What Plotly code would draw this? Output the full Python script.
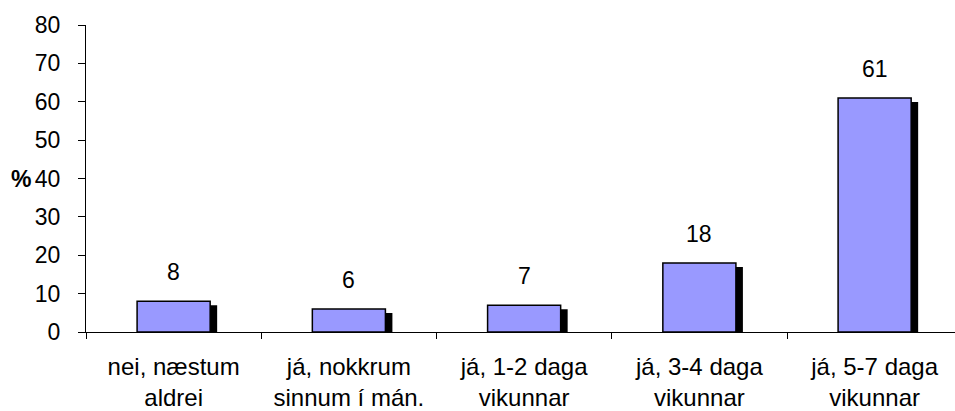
import plotly.graph_objects as go

categories = ["nei, næstum<br>aldrei", "já, nokkrum<br>sinnum í mán.", "já, 1-2 daga<br>vikunnar",
              "já, 3-4 daga<br>vikunnar", "já, 5-7 daga<br>vikunnar"]
values = [8, 6, 7, 18, 61]
y_ticks = [0, 10, 20, 30, 40, 50, 60, 70, 80]

W, H = 955, 411
L, R, T, B = 86, 0, 25, 79
plot_w = W - L - R
plot_h = H - T - B
cat_px = 175.25
x_range = [-0.5, -0.5 + plot_w / cat_px]
y_range = [0, 80]
px_per_unit = plot_h / (y_range[1] - y_range[0])

bar_w = 0.417
shadow_dx = 7 / cat_px
shadow_dy = 4 / px_per_unit
shadow_vals = [v - shadow_dy for v in values]

FONT = "Liberation Sans, Arial, sans-serif"

fig = go.Figure()
fig.add_trace(go.Bar(x=categories, y=shadow_vals, width=bar_w, offset=-bar_w / 2 + shadow_dx,
                     marker=dict(color="black", line=dict(width=0)), hoverinfo="skip"))
fig.add_trace(go.Bar(x=categories, y=values, width=bar_w, offset=-bar_w / 2,
                     marker=dict(color="#9999FF", line=dict(color="black", width=1.5))))

for c, v in zip(categories, values):
    fig.add_annotation(x=c, y=v, text=str(v), showarrow=False, yanchor="middle", yshift=29,
                       font=dict(family=FONT, size=23, color="black"))

fig.add_annotation(xref="paper", yref="y", x=(21 - L) / plot_w, y=40, text="<b>%</b>", showarrow=False,
                   xanchor="center", yanchor="middle", font=dict(family=FONT, size=23, color="black"))

fig.update_layout(
    width=W, height=H, margin=dict(l=L, r=R, t=T, b=B, autoexpand=False),
    barmode="overlay", showlegend=False, plot_bgcolor="white", paper_bgcolor="white",
    font=dict(family=FONT, size=22, color="black"),
)
fig.update_xaxes(range=x_range, showline=True, linecolor="black", linewidth=1, showgrid=False,
                 ticks="outside", tickson="boundaries", ticklen=6, tickcolor="black",
                 ticklabelstandoff=13, tickfont=dict(family=FONT, size=24))
fig.update_yaxes(range=y_range, tickvals=y_ticks, showline=True, linecolor="black", linewidth=1,
                 showgrid=False, zeroline=False, ticks="outside", ticklen=7, tickcolor="black",
                 ticklabelstandoff=13, tickfont=dict(family=FONT, size=23))

fig.write_html("out.html", config={"displayModeBar": False})

with open("out.html", "r", encoding="utf-8") as f:
    html = f.read()
html = html.replace("<head>", "<head><style>html,body{margin:0;padding:0;overflow:hidden;}</style>", 1)
with open("out.html", "w", encoding="utf-8") as f:
    f.write(html)
